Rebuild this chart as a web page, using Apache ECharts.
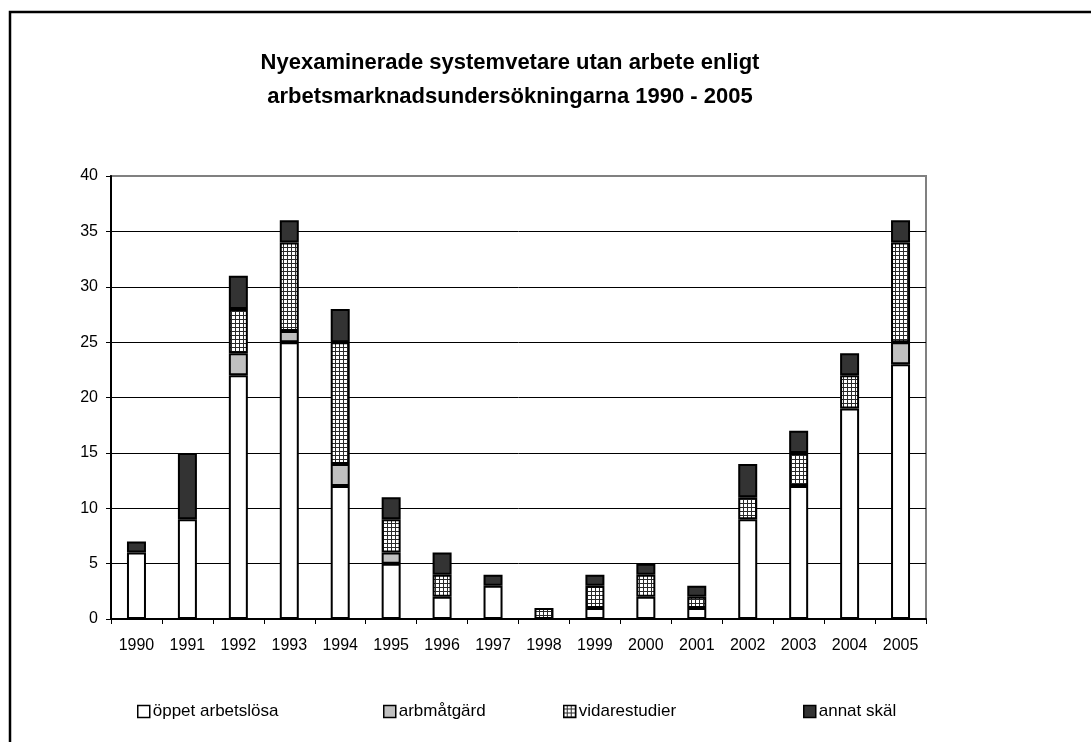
<!DOCTYPE html>
<html>
<head>
<meta charset="utf-8">
<script src="https://cdn.jsdelivr.net/npm/echarts@6/dist/echarts.min.js"></script>
<style>
html,body{margin:0;padding:0;background:#fff;}
#chart{width:1091px;height:742px;}
</style>
</head>
<body>
<div id="chart"></div>
<script>
var titleLines = ['Nyexaminerade systemvetare utan arbete enligt', 'arbetsmarknadsundersökningarna 1990 - 2005'];
var years = ['1990','1991','1992','1993','1994','1995','1996','1997','1998','1999','2000','2001','2002','2003','2004','2005'];
var seriesNames = ['öppet arbetslösa','arbmåtgärd','vidarestudier','annat skäl'];
var oppet  = [6, 9, 22, 25, 12, 5, 2, 3, 0, 1, 2, 1, 9, 12, 19, 23];
var arbmat = [0, 0, 2, 1, 2, 1, 0, 0, 0, 0, 0, 0, 0, 0, 0, 2];
var vidare = [0, 0, 4, 8, 11, 3, 2, 0, 1, 2, 2, 1, 2, 3, 3, 9];
var annat  = [1, 6, 3, 2, 3, 2, 2, 1, 0, 1, 1, 1, 3, 2, 2, 2];
var yTicks = [0, 5, 10, 15, 20, 25, 30, 35, 40];

// checkered pattern
var pc = document.createElement('canvas');
pc.width = 4; pc.height = 4;
var ctx = pc.getContext('2d');
ctx.fillStyle = '#ffffff'; ctx.fillRect(0,0,4,4);
ctx.fillStyle = '#2a2a2a'; ctx.fillRect(3,0,1,4); ctx.fillRect(0,3,4,1);
var checker = {image: pc, repeat: 'repeat'};

var fills = ['#ffffff', '#c0c0c0', checker, '#333333'];
var values = [oppet, arbmat, vidare, annat];
var legendLeft = [137, 383, 563, 803];

var chart = echarts.init(document.getElementById('chart'), null, {renderer: 'canvas'});
var font = 'Liberation Sans, Arial, sans-serif';

var series = seriesNames.map(function (n, i) {
  return {
    name: n, type: 'bar', stack: 'total', barWidth: 19,
    data: values[i].map(function (v) { return v === 0 ? null : v; }),
    itemStyle: {color: fills[i], borderColor: '#000', borderWidth: 2},
    emphasis: {disabled: true}
  };
});

var legends = seriesNames.map(function (n, i) {
  return {
    data: [n], left: legendLeft[i], top: 703, padding: 0,
    itemWidth: 12, itemHeight: 12, icon: 'rect',
    itemStyle: {borderColor: '#000', borderWidth: 1.5},
    textStyle: {fontFamily: font, fontSize: 17, color: '#000', padding: [0,0,0,-2]},
    selectedMode: false
  };
});

chart.setOption({
  animation: false,
  backgroundColor: '#fff',
  textStyle: {fontFamily: font},
  title: {
    text: titleLines.join('\n'),
    left: 510, top: 46, padding: 0, textAlign: 'center',
    textStyle: {fontFamily: font, fontSize: 22, fontWeight: 'bold', color: '#000', lineHeight: 34}
  },
  legend: legends,
  grid: {left: 111, right: 165, top: 176, bottom: 123, show: true, borderColor: '#808080', borderWidth: 2, backgroundColor: 'transparent'},
  xAxis: {
    type: 'category', data: years, boundaryGap: true,
    axisLine: {lineStyle: {color: '#000', width: 2}},
    axisTick: {show: true, length: 5, inside: false, lineStyle: {color: '#000'}},
    axisLabel: {color: '#000', fontSize: 16, fontFamily: font, margin: 19, interval: 0}
  },
  yAxis: {
    type: 'value', min: yTicks[0], max: yTicks[yTicks.length-1], interval: yTicks[1]-yTicks[0],
    axisLine: {show: true, lineStyle: {color: '#000', width: 2}},
    axisTick: {show: true, length: 5, lineStyle: {color: '#000'}},
    axisLabel: {color: '#000', fontSize: 16, fontFamily: font, margin: 13},
    splitLine: {show: true, showMaxLine: false, lineStyle: {color: '#000', width: 1}}
  },
  graphic: [{
    type: 'rect', silent: true,
    shape: {x: 10, y: 12, width: 2000, height: 2000},
    style: {fill: 'none', stroke: '#000', lineWidth: 2.5}
  }],
  series: series
});
</script>
</body>
</html>
